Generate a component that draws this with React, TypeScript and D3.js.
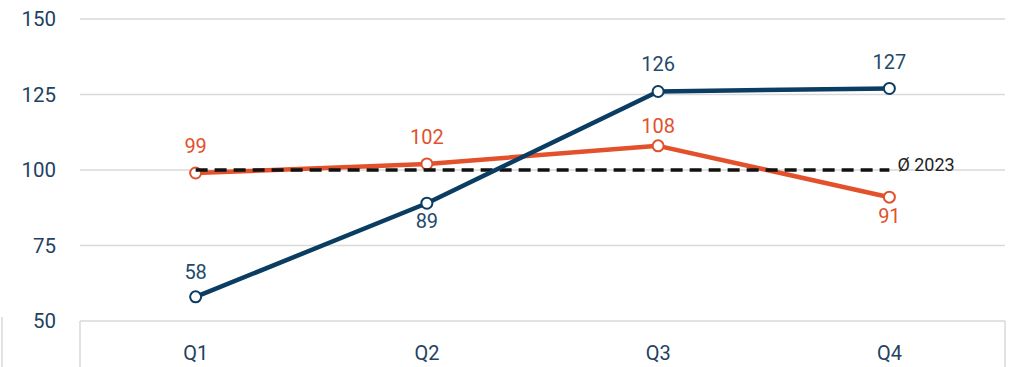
import React from "react";
import * as d3 from "d3";

const quarters = ["Q1", "Q2", "Q3", "Q4"];
const seriesBlue = [58, 89, 126, 127];
const seriesOrange = [99, 102, 108, 91];
const average = 100;
const averageLabel = "Ø 2023";
const yTicks = [50, 75, 100, 125, 150];
const blueLabelBelow = [false, true, false, false];
const orangeLabelBelow = [false, false, false, true];
const orangeLabelGap = [27, 27, 20, 19];
const blueLabelGap = [25, 18, 27, 26];

const W = 1015;
const H = 367;
const BLUE = "#0b3d62";
const ORANGE = "#e2512b";
const GRID = "#d9d9d9";
const FONT = "Roboto, 'Noto Sans', sans-serif";

export default function App() {
  const x = d3.scaleBand<string>().domain(quarters).range([80, 1005]);
  const cx = (q: string) => (x(q) as number) + x.bandwidth() / 2;
  const y = d3.scaleLinear().domain([50, 150]).range([321, 19]);

  const line = d3
    .line<number>()
    .x((_, i) => cx(quarters[i]))
    .y((d) => y(d));

  const renderSeries = (vals: number[], color: string, below: boolean[], gaps: number[], textColor: string) => (
    <g>
      <path d={line(vals) || ""} fill="none" stroke={color} strokeWidth={4.5} strokeLinejoin="round" strokeLinecap="round" />
      {vals.map((v, i) => (
        <circle key={"c" + i} cx={cx(quarters[i])} cy={y(v)} r={5.5} fill="#fff" stroke={color} strokeWidth={2} />
      ))}
      {vals.map((v, i) => (
        <text
          key={"t" + i}
          x={cx(quarters[i])}
          y={below[i] ? y(v) + gaps[i] : y(v) - gaps[i]}
          textAnchor="middle"
          dominantBaseline="central"
          fontSize={20}
          fill={textColor}
          fontFamily={FONT}
        >
          {v}
        </text>
      ))}
    </g>
  );

  return (
    <svg width={W} height={H} style={{ position: "absolute", left: 0, top: 0, background: "#fff" }}>
      {yTicks.map((t) => (
        <g key={t}>
          <line x1={80} x2={1005} y1={y(t)} y2={y(t)} stroke={GRID} strokeWidth={1.5} />
          <text x={56} y={y(t)} textAnchor="end" dominantBaseline="central" fontSize={20.5} fill="#1f4262" fontFamily={FONT}>
            {t}
          </text>
        </g>
      ))}
      <line x1={80} x2={80} y1={y(50)} y2={H} stroke={GRID} strokeWidth={1.5} />
      <line x1={1005} x2={1005} y1={y(50)} y2={H} stroke={GRID} strokeWidth={1.5} />
      <line x1={2} x2={2} y1={317} y2={H} stroke={GRID} strokeWidth={1.5} />
      {quarters.map((q) => (
        <text key={q} x={cx(q)} y={353} textAnchor="middle" dominantBaseline="central" fontSize={20} fill="#1f4262" fontFamily={FONT}>
          {q}
        </text>
      ))}
      {renderSeries(seriesOrange, ORANGE, orangeLabelBelow, orangeLabelGap, ORANGE)}
      <line
        x1={cx(quarters[0])}
        x2={cx(quarters[3])}
        y1={y(average)}
        y2={y(average)}
        stroke="#111"
        strokeWidth={3.5}
        strokeDasharray="12 7"
      />
      <text x={cx(quarters[3]) + 8} y={y(average) + 1} fontSize={18} fill="#222" fontFamily={FONT}>
        {averageLabel}
      </text>
      {renderSeries(seriesBlue, BLUE, blueLabelBelow, blueLabelGap, "#1f4a6b")}
    </svg>
  );
}
